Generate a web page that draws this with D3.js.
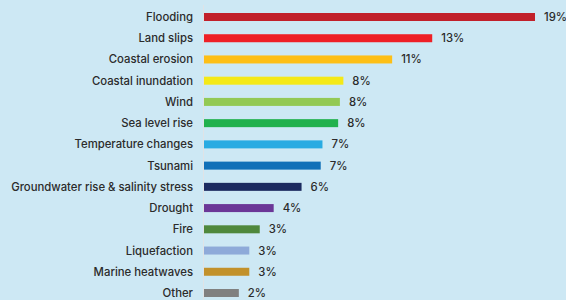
<!DOCTYPE html>
<html>
<head>
<meta charset="utf-8">
<script src="https://cdn.jsdelivr.net/npm/d3@7"></script>
<style>
  html, body { margin: 0; padding: 0; background: #cde8f4; }
  svg { display: block; }
  text { font-family: Inter, "Open Sans", sans-serif; font-size: 11px; font-weight: 500;
         fill: #2b2b2b; font-variant-ligatures: none; }
</style>
</head>
<body>
<svg id="chart" width="566" height="300"></svg>
<script>
// hazards, share of responses (%)
const hazards = ["Flooding", "Land slips", "Coastal erosion", "Coastal inundation", "Wind",
  "Sea level rise", "Temperature changes", "Tsunami", "Groundwater rise & salinity stress",
  "Drought", "Fire", "Liquefaction", "Marine heatwaves", "Other"];
const shares = [19, 13.1, 10.8, 8.0, 7.8, 7.7, 6.8, 6.7, 5.6, 4.0, 3.2, 2.6, 2.6, 2.0];
const barColors = ["#c1202a", "#ee2026", "#fdbf16", "#f4e917", "#93c954", "#21b14d",
  "#29abe2", "#1070b8", "#1c2a5f", "#6b3797", "#4f883c", "#8eaad9", "#c2912b", "#808080"];

const data = hazards.map((h, i) => ({ hazard: h, value: shares[i], color: barColors[i] }));

const svg = d3.select("#chart");

const x = d3.scaleLinear().domain([0, 19]).range([204, 535]);
const y = d3.scalePoint().domain(hazards).range([17, 293]);
const barH = 8;

// thin axis line at zero
svg.append("line")
  .attr("x1", x(0) - 0.5).attr("x2", x(0) - 0.5)
  .attr("y1", 5).attr("y2", 300)
  .attr("stroke", "#dfe3e6").attr("stroke-width", 1);

svg.selectAll(".bar")
  .data(data)
  .enter()
  .append("rect")
  .attr("class", "bar")
  .attr("x", x(0))
  .attr("y", d => y(d.hazard) - barH / 2)
  .attr("width", d => x(d.value) - x(0))
  .attr("height", barH)
  .attr("fill", d => d.color);

// category labels
const cats = svg.selectAll(".cat")
  .data(data)
  .enter()
  .append("text")
  .attr("class", "cat")
  .attr("x", 193)
  .attr("y", d => y(d.hazard))
  .attr("dy", "0.35em")
  .attr("text-anchor", "end")
  .text(d => d.hazard);

// fit font size so the longest label is ~182px wide like the original
const longest = d3.max(cats.nodes(), n => n.getComputedTextLength());
const fs = 11 * 182 / longest;
svg.selectAll("text").style("font-size", fs + "px");

// value labels
svg.selectAll(".val")
  .data(data)
  .enter()
  .append("text")
  .attr("class", "val")
  .attr("x", d => x(d.value) + 9)
  .attr("y", d => y(d.hazard))
  .attr("dy", "0.35em")
  .style("font-size", fs + "px")
  .text(d => d3.format(".0f")(d.value) + "%");
</script>
</body>
</html>
